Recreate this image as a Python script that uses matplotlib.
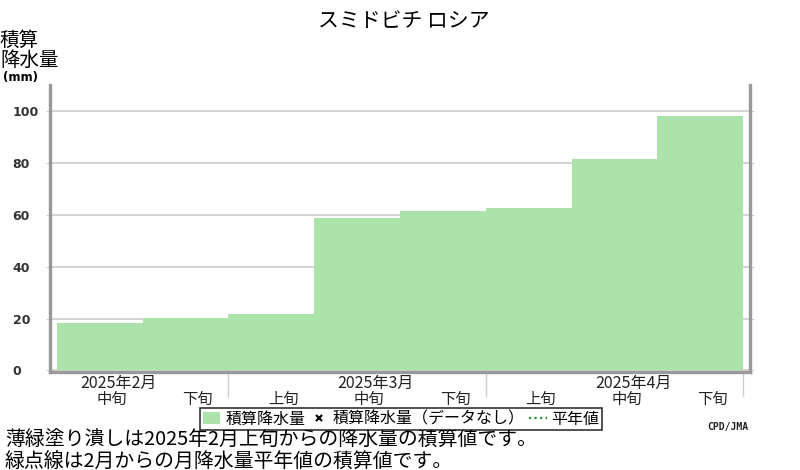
import matplotlib
matplotlib.use("Agg")
import matplotlib.pyplot as plt
from matplotlib.patches import Patch
from matplotlib.lines import Line2D
from matplotlib.transforms import blended_transform_factory

plt.rcParams['font.family'] = ['Noto Sans CJK JP', 'DejaVu Sans']

# accumulated precipitation per dekad (mm), Feb mid .. Apr late
dekads = ["中旬", "下旬", "上旬", "中旬", "下旬", "上旬", "中旬", "下旬"]
precip = [18.2, 20.1, 21.8, 58.8, 61.6, 62.7, 81.3, 97.9]
months = ["2025年2月", "2025年3月", "2025年4月"]
month_mid = [0, 3, 6]      # index of the 中旬 of each month
month_edges = [2, 5, 8]    # dekad boundaries between months
yticks = [0, 20, 40, 60, 80, 100]

fill_col = "#abe3ab"
axis_col = "#999999"
grid_col = "#cccccc"

fig = plt.figure(figsize=(8, 4.7), dpi=100)
ax = fig.add_axes([0.0625, 0.2085, 0.875, 0.6106])

x = list(range(len(precip)))
ax.bar([i + 0.5 for i in x], precip, width=1.0, color=fill_col, linewidth=0, zorder=2)

ax.set_xlim(-0.08, 8.08)
ax.set_ylim(-0.6, 110)
ax.set_yticks(yticks)
ax.set_yticklabels([str(v) for v in yticks])
ax.grid(axis="y", color=grid_col, linewidth=1.2, zorder=0)
ax.set_xticks([])

for s in ["left", "bottom", "right"]:
    ax.spines[s].set_color(axis_col)
    ax.spines[s].set_linewidth(2.4)
ax.spines["top"].set_visible(False)

ax.tick_params(axis="y", length=3, color=grid_col, pad=24, labelsize=9,
               labelcolor="#333333", right=True, direction="out")
for lab in ax.get_yticklabels():
    lab.set_ha("left")
    lab.set_fontfamily("DejaVu Sans")
    lab.set_fontweight("bold")

trans = blended_transform_factory(ax.transData, ax.transAxes)
for e in month_edges:
    ax.plot([e, e], [-0.005, -0.085], color=grid_col, lw=1.0, transform=trans, clip_on=False)

for i, d in enumerate(dekads):
    ax.text(i + 0.64, -0.065, d, transform=trans, ha="center", va="top",
            fontsize=11, color="#222222")
for m, name in zip(month_mid, months):
    ax.text(m + 0.72, -0.01, name, transform=trans, ha="center", va="top",
            fontsize=11.5, color="#222222")

fig.text(0.505, 0.955, "スミドビチ ロシア", ha="center", va="center", fontsize=15)
fig.text(0.0, 0.893, "積算\n降水量", ha="left", va="center", fontsize=14,
         linespacing=0.95)
fig.text(0.004, 0.836, "(mm)", ha="left", va="center", fontsize=8.5,
         fontweight="bold", family="DejaVu Sans")

handles = [
    Patch(facecolor=fill_col, edgecolor="none"),
    Line2D([], [], color="black", marker="x", linestyle="none", markersize=5, mew=1.5),
    Line2D([], [], color="#228b22", linestyle=":", linewidth=1.5),
]
labels = ["積算降水量", "積算降水量（データなし）", "平年値"]
leg = fig.legend(handles, labels, loc="center", bbox_to_anchor=(0.5015, 0.1085),
                 ncol=3, fontsize=11.5, frameon=True, fancybox=False,
                 handlelength=1.1, handletextpad=0.3, columnspacing=0.3,
                 borderpad=0.15, borderaxespad=0)
leg.get_frame().set_edgecolor("black")
leg.get_frame().set_linewidth(1.2)

fig.text(0.935, 0.092, "CPD/JMA", ha="right", va="center", fontsize=7,
         fontweight="bold", family="DejaVu Sans Mono", color="#222222")

fig.text(0.006, 0.062, "薄緑塗り潰しは2025年2月上旬からの降水量の積算値です。",
         ha="left", va="center", fontsize=14.3)
fig.text(0.006, 0.019, "緑点線は2月からの月降水量平年値の積算値です。",
         ha="left", va="center", fontsize=14.3)

fig.savefig("out.png", dpi=100)
